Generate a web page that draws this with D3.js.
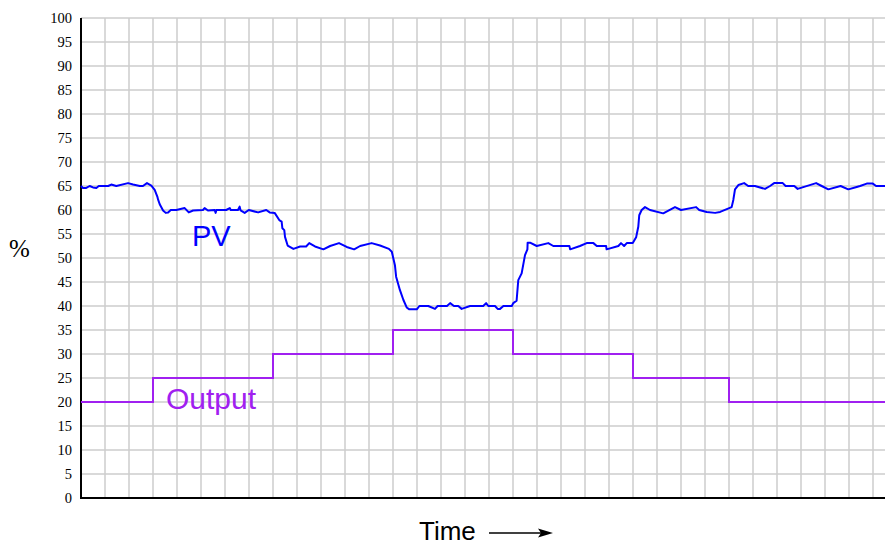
<!DOCTYPE html>
<html>
<head>
<meta charset="utf-8">
<script src="https://cdn.jsdelivr.net/npm/d3@7"></script>
<style>
  html, body { margin: 0; padding: 0; background: #fff; }
  svg { display: block; }
  .serif { font-family: "Liberation Serif", "DejaVu Serif", "Times New Roman", serif; }
  .sans { font-family: "Liberation Sans", Arial, Helvetica, sans-serif; }
</style>
</head>
<body>
<svg id="chart" width="885" height="546"></svg>
<script>
// ---- data ----
const yTicks = [0,5,10,15,20,25,30,35,40,45,50,55,60,65,70,75,80,85,90,95,100];
const timeDomain = [0, 33.5];
const outputTimes  = [0, 3, 8, 13, 18, 23, 27, 33.5];
const outputValues = [20, 25, 30, 35, 30, 25, 20, 20];
const pvTimes = [0,0.08,0.22,0.36,0.5,0.64,0.74,1.13,1.26,1.47,1.96,2.17,2.45,2.58,2.75,2.93,3.07,3.18,3.21,3.28,3.42,3.53,3.63,3.74,3.97,4.32,4.49,4.67,5.08,5.15,5.29,5.57,5.61,5.64,6.05,6.2,6.24,6.54,6.61,6.65,6.82,6.99,7.38,7.72,7.86,8.07,8.26,8.36,8.39,8.47,8.5,8.61,8.85,9.13,9.38,9.51,9.75,10.1,10.38,10.75,11.07,11.38,11.63,12.11,12.46,12.83,12.95,13.08,13.13,13.29,13.43,13.57,13.68,13.99,14.1,14.47,14.75,14.86,15.25,15.38,15.54,15.72,15.86,16.21,16.76,16.88,16.97,17.25,17.36,17.46,17.6,17.95,18.01,18.15,18.22,18.36,18.5,18.6,18.61,18.71,18.99,19.47,19.68,20.35,20.38,20.79,21.07,21.35,21.49,21.88,21.9,22.39,22.5,22.63,22.74,22.99,23.13,23.22,23.26,23.36,23.5,23.71,24.26,24.75,25,25.63,25.76,26.07,26.42,26.63,27.11,27.18,27.25,27.39,27.63,27.8,28.08,28.5,28.71,28.88,29.24,29.36,29.72,29.86,30.63,30.86,31.14,31.65,31.97,32.32,32.46,32.74,32.99,33.13,33.5];
const pvValues = [65,64.6,64.6,65,64.7,64.6,65,65,65.3,65,65.6,65.3,65,65,65.6,65.1,64.2,62.8,62.2,61.2,59.9,59.4,59.5,60,60,60.4,59.5,59.9,60,60.4,59.9,60,59.4,60,60,60.4,60,60,60.7,59.9,59.4,60,59.5,60,59.5,59.4,57.9,57.6,56.2,55.8,54.4,52.6,51.9,52.4,52.4,53.1,52.4,51.8,52.5,53.1,52.3,51.8,52.5,53.1,52.6,51.9,51.3,48.5,46.1,43.3,41.3,39.7,39.3,39.3,40,40,39.4,40,40,40.6,40,40,39.4,40,40,40.6,40,40,39.4,39.4,40,40,40.6,41.1,45.4,46.8,50.6,51.8,53.2,53.2,52.5,53.1,52.5,52.5,51.8,52.5,53.1,53.1,52.5,52.5,51.8,52.5,53.1,52.5,53.1,53.1,54.3,56.5,58.9,60,60.6,60,59.3,60.6,60,60.6,60,59.6,59.4,59.6,60.6,62.1,64.3,65.2,65.6,65,65,64.4,65,65.6,65.6,65,65,64.4,65.6,65,64.3,65,64.3,64.8,65,65.5,65.5,65,65];
const labels = { y: "%", x: "Time", pv: "PV", output: "Output" };

// ---- layout ----
const svg = d3.select("#chart");
const mLeft = 81, mRight = 885, mTop = 18, mBottom = 498;
const x = d3.scaleLinear().domain(timeDomain).range([mLeft, mRight]);
const y = d3.scaleLinear().domain([0, 100]).range([mBottom, mTop]);

// grid
const grid = svg.append("g").attr("stroke", "#cccccc").attr("stroke-width", 1.5);
grid.selectAll("line.h").data(yTicks.filter(d => d > 0)).enter().append("line")
  .attr("x1", mLeft).attr("x2", mRight).attr("y1", d => y(d)).attr("y2", d => y(d));
grid.selectAll("line.v").data(d3.range(1, Math.floor(timeDomain[1]) + 1)).enter().append("line")
  .attr("x1", d => x(d)).attr("x2", d => x(d)).attr("y1", mTop).attr("y2", mBottom);

// y axis labels
const yAxis = d3.axisLeft(y).tickValues(yTicks).tickSize(0).tickPadding(9).tickFormat(d3.format("d"));
const gy = svg.append("g").attr("transform", `translate(${mLeft},0)`).call(yAxis);
gy.attr("font-family", null).attr("font-size", null);
gy.select(".domain").remove();
gy.selectAll("text").attr("class", "serif").style("font-size", "14.5px").attr("fill", "#000");

// axes lines
svg.append("line").attr("x1", mLeft).attr("x2", mLeft).attr("y1", mTop).attr("y2", mBottom + 1)
  .attr("stroke", "#000").attr("stroke-width", 2);
svg.append("line").attr("x1", mLeft - 1).attr("x2", mRight).attr("y1", mBottom).attr("y2", mBottom)
  .attr("stroke", "#000").attr("stroke-width", 2);

// output line
const outData = outputTimes.map((t, i) => [t, outputValues[i]]);
svg.append("path").datum(outData)
  .attr("d", d3.line().x(d => x(d[0])).y(d => y(d[1])).curve(d3.curveStepAfter))
  .attr("fill", "none").attr("stroke", "#a020f0").attr("stroke-width", 2);

// PV line
const pvData = pvTimes.map((t, i) => [t, pvValues[i]]);
svg.append("path").datum(pvData)
  .attr("d", d3.line().x(d => x(d[0])).y(d => y(d[1])))
  .attr("fill", "none").attr("stroke", "#0000ff").attr("stroke-width", 2).attr("stroke-linejoin", "round");

// labels
svg.append("text").attr("class", "sans").attr("x", 192).attr("y", 246).style("font-size", "29px")
  .attr("fill", "#0000ff").text(labels.pv);
svg.append("text").attr("class", "sans").attr("x", 166).attr("y", 409).style("font-size", "30px")
  .attr("fill", "#a020f0").text(labels.output);
svg.append("text").attr("class", "serif").attr("x", 9).attr("y", 257).style("font-size", "25px")
  .attr("fill", "#000").text(labels.y);
svg.append("text").attr("class", "sans").attr("x", 419).attr("y", 540).style("font-size", "26px")
  .attr("fill", "#000").text(labels.x);

// arrow
svg.append("line").attr("x1", 489).attr("x2", 542).attr("y1", 533).attr("y2", 533)
  .attr("stroke", "#000").attr("stroke-width", 1.5);
svg.append("path").attr("d", "M553,533 L538,528.5 L541,533 L538,537.5 Z").attr("fill", "#000");
</script>
</body>
</html>
